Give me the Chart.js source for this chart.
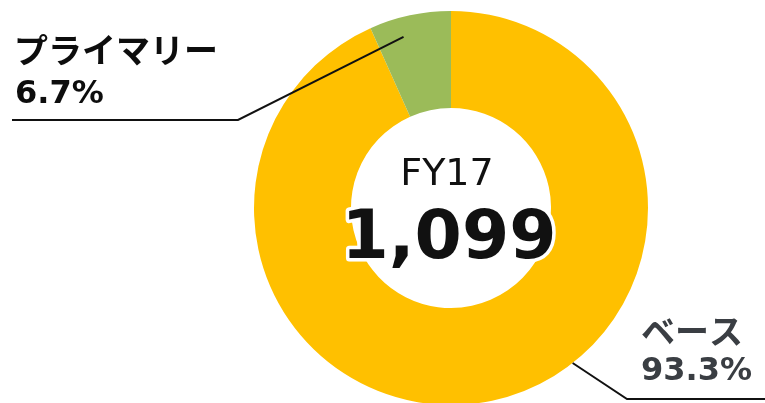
<!DOCTYPE html>
<html>
<head>
<meta charset="utf-8">
<script src="https://cdn.jsdelivr.net/npm/chart.js@4"></script>
<style>
  body { margin: 0; background: #fff; }
  #wrap { width: 765px; height: 403px; position: relative; }
</style>
</head>
<body>
<div id="wrap"><canvas id="donutChart" width="765" height="403"></canvas></div>
<script>
const categories = ["ベース", "プライマリー"];
const shares = [93.3, 6.7];
const colors = ["#FFC000", "#9BBB59"];
const centerTitle = "FY17";
const centerTotal = "1,099";

const jpFont = '"Noto Sans CJK JP", "DejaVu Sans", sans-serif';
const numFont = '"DejaVu Sans", sans-serif';

function arcPoint(arc, fraction, angleShift) {
    const p = arc.getProps(["x", "y", "startAngle", "endAngle", "innerRadius", "outerRadius"], true);
    const a = (p.startAngle + p.endAngle) / 2 + (angleShift || 0);
    const r = p.innerRadius + (p.outerRadius - p.innerRadius) * fraction;
    return { x: p.x + Math.cos(a) * r, y: p.y + Math.sin(a) * r };
}

const labelPlugin = {
    id: "donutLabels",
    afterDraw(chart) {
        const ctx = chart.ctx;
        const arcs = chart.getDatasetMeta(0).data;
        const c = arcs[0];

        ctx.save();
        ctx.lineWidth = 2;
        ctx.strokeStyle = "#111";

        // leader for primary slice
        const pA = arcPoint(arcs[1], 0.8, -0.06);
        ctx.beginPath();
        ctx.moveTo(pA.x, pA.y);
        ctx.lineTo(238, 120);
        ctx.lineTo(12, 120);
        ctx.stroke();

        // leader for base slice
        const pB = arcPoint(arcs[0], 1.0, -0.455);
        ctx.beginPath();
        ctx.moveTo(pB.x, pB.y);
        ctx.lineTo(627, 399);
        ctx.lineTo(765, 399);
        ctx.stroke();

        ctx.textBaseline = "alphabetic";
        ctx.textAlign = "left";
        ctx.fillStyle = "#0d0d0d";
        ctx.font = "bold 34px " + jpFont;
        ctx.fillText(categories[1], 14, 63);
        ctx.font = "bold 32px " + numFont;
        ctx.fillText(shares[1].toFixed(1) + "%", 15, 103);

        ctx.fillStyle = "#3a3e43";
        ctx.font = "bold 34px " + jpFont;
        ctx.fillText(categories[0], 641, 344);
        ctx.font = "bold 32px " + numFont;
        ctx.fillText(shares[0].toFixed(1) + "%", 641, 380);

        // centre text
        ctx.textAlign = "center";
        ctx.fillStyle = "#111";
        ctx.font = "38px " + numFont;
        ctx.fillText(centerTitle, c.x - 4, 185);

        ctx.font = "bold 68px " + numFont;
        ctx.lineJoin = "round";
        ctx.lineWidth = 7;
        ctx.strokeStyle = "#fff";
        ctx.strokeText(centerTotal, c.x - 2, 258);
        ctx.fillText(centerTotal, c.x - 2, 258);
        ctx.restore();
    }
};

new Chart(document.getElementById("donutChart"), {
    type: "doughnut",
    data: {
        labels: categories,
        datasets: [{
            data: shares,
            backgroundColor: colors,
            borderWidth: 0
        }]
    },
    options: {
        responsive: false,
        animation: false,
        radius: 197,
        cutout: 99,
        layout: { padding: { left: 137, right: 0, top: 13, bottom: 0 } },
        plugins: {
            legend: { display: false },
            tooltip: { enabled: false }
        }
    },
    plugins: [labelPlugin]
});
</script>
</body>
</html>
